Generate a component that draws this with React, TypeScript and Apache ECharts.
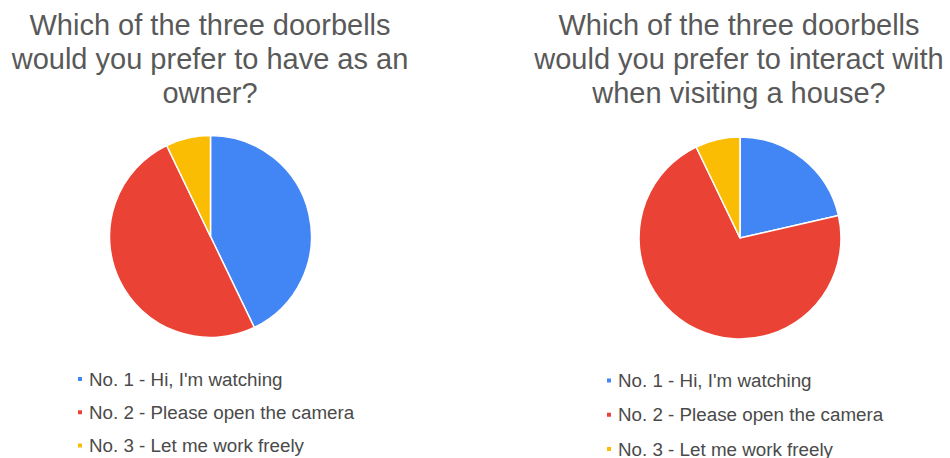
import React, { useEffect, useRef } from "react";
import * as echarts from "echarts";

const categories = [
  "No. 1 - Hi, I'm watching",
  "No. 2 - Please open the camera",
  "No. 3 - Let me work freely",
];
const ownerValues = [6, 7, 1];
const visitorValues = [3, 10, 1];
const titles = [
  "Which of the three doorbells\nwould you prefer to have as an\nowner?",
  "Which of the three doorbells\nwould you prefer to interact with\nwhen visiting a house?",
];
const colors = ["#4285F4", "#EA4335", "#FBBC04"];

export default function App() {
  const ref = useRef<HTMLDivElement>(null);
  useEffect(() => {
    if (!ref.current) return;
    const chart = echarts.init(ref.current, undefined, { renderer: "svg" });
    const titleStyle = {
      fontFamily: "Liberation Sans, Arial, sans-serif",
      fontSize: 29,
      fontWeight: "normal" as const,
      color: "#595959",
      lineHeight: 34,
    };
    const legendBase = {
      orient: "vertical" as const,
      icon: "rect",
      itemWidth: 6,
      itemHeight: 6,
      padding: 0,
      height: 120,
      data: categories,
      selectedMode: false,
      textStyle: {
        fontFamily: "Liberation Sans, Arial, sans-serif",
        fontSize: 18.8,
        color: "#4a4a4a",
        lineHeight: 18,
        padding: [0, 0, 0, 1],
      },
    };
    const pieBase = {
      type: "pie" as const,
      radius: 101,
      startAngle: 90,
      clockwise: true,
      label: { show: false },
      labelLine: { show: false },
      emphasis: { disabled: true },
      itemStyle: { borderColor: "#ffffff", borderWidth: 1.5 },
    };
    chart.setOption({
      animation: false,
      color: colors,
      title: [
        { text: titles[0], left: 210, top: 8, padding: 0, textAlign: "center", textStyle: titleStyle },
        { text: titles[1], left: 739, top: 8, padding: 0, textAlign: "center", textStyle: titleStyle },
      ],
      legend: [
        { ...legendBase, left: 76, top: 369.5, itemGap: 14.3 },
        { ...legendBase, left: 605, top: 371, itemGap: 15.3 },
      ],
      series: [
        {
          ...pieBase,
          name: "owner",
          center: [210.5, 236.5],
          data: categories.map((c, i) => ({ name: c, value: ownerValues[i] })),
        },
        {
          ...pieBase,
          name: "visitor",
          center: [740, 238],
          data: categories.map((c, i) => ({ name: c, value: visitorValues[i] })),
        },
      ],
    });
    return () => chart.dispose();
  }, []);
  return (
    <div
      ref={ref}
      style={{ position: "fixed", left: 0, top: 0, width: 950, height: 458, background: "#fff" }}
    />
  );
}
